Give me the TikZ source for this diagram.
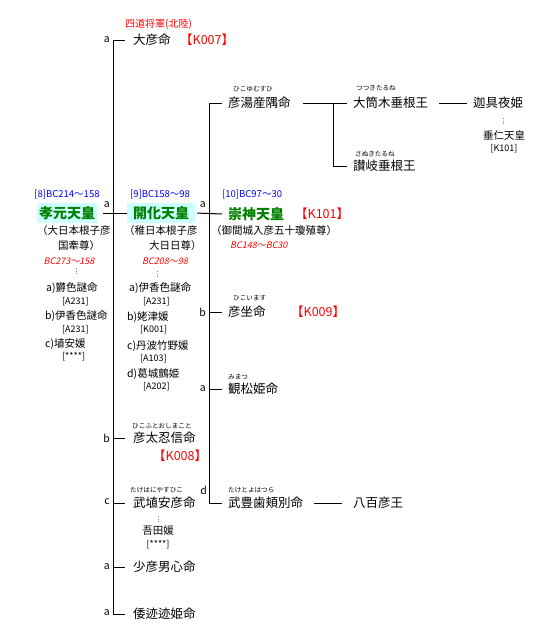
\documentclass[tikz,border=0pt]{standalone}
\usepackage{fontspec}
\setmainfont{Noto Sans CJK JP}
\newfontfamily\slantfont[FakeSlant=0.22]{Noto Sans CJK JP}
\usepackage{tikz}
\usepackage{xcolor}
\definecolor{tennobg}{HTML}{CCFFFF}
\definecolor{tennogreen}{HTML}{008000}
\newcommand\nmfont{\fontsize{12.5}{14}\selectfont}
\newcommand\rbfont{\fontsize{6.6}{7}\selectfont}
\newcommand\smfont{\fontsize{10.5}{12}\selectfont}

\begin{document}
\begin{tikzpicture}[x=1pt,y=-1pt,
  every node/.style={inner sep=0pt},
  nm/.style={anchor=west,font=\nmfont},
  rb/.style={anchor=west,font=\rbfont},
  kcode/.style={anchor=west,font=\nmfont,text=red},
  sm/.style={anchor=west,font=\smfont},
  ref/.style={font=\fontsize{9}{10}\selectfont},
  era/.style={font=\fontsize{9.5}{10}\selectfont,text=blue},
  life/.style={font=\fontsize{9}{10}\selectfont\slantfont,text=red},
  lab/.style={anchor=east,font=\fontsize{10.5}{11}\selectfont},
  tenno/.style={font=\fontsize{14}{16}\selectfont\bfseries,text=tennogreen},
  tennobox/.style={tenno,fill=tennobg,minimum height=20},
  tree/.style={line width=1pt},
  dotline/.style={gray,dotted,line width=0.7pt}]
\useasboundingbox (0,0) rectangle (554,633);
\coordinate (trunkA) at (113,40);
\coordinate (trunkB) at (209,103);
\coordinate (trunkC) at (333,103);
% generation of Koan
\node[tennobox,minimum width=60] (koan) at (67,213) {孝元天皇};
\node[era] (koanera) at (67,195) {[8]BC214～158};
\node[sm] (koanalias) at (37,231) {（大日本根子彦};
\node[sm] (koanalias2) at (58,246) {国牽尊）};
\node[life] (koanlife) at (69,261) {BC273～158};
\node[sm] (koanwa) at (46,288) {a)欝色謎命};
\node[ref,anchor=west] (koanwaref) at (62,302) {[A231]};
\node[sm] (koanwb) at (45,316) {b)伊香色謎命};
\node[ref,anchor=west] (koanwbref) at (62,330) {[A231]};
\node[sm] (koanwc) at (45,344) {c)埴安媛};
\node[ref,anchor=west] (koanwcref) at (62,357) {[****]};
\coordinate (koandot) at (76,268);
\draw[dotline] (koandot) -- ++(0,8);
% children of Koan
\node[nm] (ohiko) at (133,40) {大彦命};
\node[kcode] (ohikok) at (180,40) {【K007】};
\node[anchor=west,font=\fontsize{10}{12}\selectfont,text=red] (shido) at (125,24) {四道将軍(北陸)};
\node[tennobox,minimum width=68] (kaika) at (161,213) {開化天皇};
\node[era] (kaikaera) at (160,195) {[9]BC158～98};
\node[sm] (kaikaalias) at (124,231) {（稚日本根子彦};
\node[sm] (kaikaalias2) at (149,246) {大日日尊）};
\node[life] (kaikalife) at (165,261) {BC208～98};
\coordinate (kaikadot) at (157,271);
\draw[dotline] (kaikadot) -- ++(0,8);
\node[sm] (kaikawa) at (129,288) {a)伊香色謎命};
\node[ref,anchor=west] (kaikawaref) at (143,302) {[A231]};
\node[sm] (kaikawb) at (127,317) {b)姥津媛};
\node[ref,anchor=west] (kaikawbref) at (140,330) {[K001]};
\node[sm] (kaikawc) at (127,346) {c)丹波竹野媛};
\node[ref,anchor=west] (kaikawcref) at (140,359) {[A103]};
\node[sm] (kaikawd) at (127,374) {d)葛城鸇姫};
\node[ref,anchor=west] (kaikawdref) at (143,387) {[A202]};
\node[nm] (hikofuto) at (133,438) {彦太忍信命};
\node[rb] at (132,426) {ひこふとおしまこと};
\node[kcode] (hikofutok) at (153,456) {【K008】};
\node[nm] (takehani) at (133,503) {武埴安彦命};
\node[rb] at (130,490) {たけはにやすひこ};
\coordinate (takehanidot) at (158,516);
\draw[dotline] (takehanidot) -- ++(0,8);
\node[sm,anchor=center] (ata) at (158,531) {吾田媛};
\node[ref] (ataref) at (158,545) {[****]};
\node[nm] (sukuna) at (133,567) {少彦男心命};
\node[nm] (yamato) at (133,614) {倭迹迹姫命};
\node[lab] at (110,40) {a};
\node[lab] at (110,205) {a};
\node[lab] at (110,438) {b};
\node[lab] at (110,502) {c};
\node[lab] at (110,567) {a};
\node[lab] at (110,613) {a};
\draw[tree] ([xshift=-8]ohiko.west) -- (trunkA) |- ([xshift=-8]yamato.west);
\foreach \n in {hikofuto,takehani,sukuna}
  \draw[tree] (trunkA |- \n.west) -- ([xshift=-8]\n.west);
\draw[tree,shorten <=6] (koan.east) -- (kaika.west);
% children of Kaika
\node[nm] (hikoyu) at (228,103) {彦湯産隅命};
\node[rb] at (233,89) {ひこゆむすひ};
\node[tenno,anchor=west] (sujin) at (228,214) {崇神天皇};
\node[kcode] (sujink) at (295,214) {【K101】};
\node[era,anchor=west] (sujinera) at (222,195) {[10]BC97～30};
\node[sm] (sujinalias) at (211,231) {（御間城入彦五十瓊殖尊）};
\node[life,anchor=west] (sujinlife) at (230,245) {BC148～BC30};
\node[nm] (hikoimasu) at (228,312) {彦坐命};
\node[rb] at (233,298) {ひこいます};
\node[kcode] (hikoimasuk) at (291,312) {【K009】};
\node[nm] (mimatsu) at (228,389) {観松姫命};
\node[rb] at (228,377) {みまつ};
\node[nm] (taketoyo) at (228,503) {武豊歯頬別命};
\node[rb] at (228,490) {たけとよはつら};
\node[nm] (yaohiko) at (353,503) {八百彦王};
\node[lab] at (206,205) {a};
\node[lab] at (206,312) {b};
\node[lab] at (206,389) {a};
\node[lab] at (207,490) {d};
\draw[tree] ([xshift=-6]hikoyu.west) -- (trunkB) |- ([xshift=-6]taketoyo.west);
\foreach \n in {hikoimasu,mimatsu}
  \draw[tree] (trunkB |- \n.west) -- ([xshift=-6]\n.west);
\draw[tree,shorten <=2] (kaika.east) -- ([xshift=-6]sujin.west);
\draw[tree,shorten <=11,shorten >=11] (taketoyo.east) -- (yaohiko.west);
% line of Hikoyumusumi
\node[nm] (otsutsuki) at (353,103) {大筒木垂根王};
\node[rb] at (356,88) {つつきたるね};
\node[nm] (sanuki) at (353,166) {讃岐垂根王};
\node[rb] at (355,154) {さぬきたるね};
\node[nm] (kaguya) at (473,103) {迦具夜姫};
\coordinate (kaguyadot) at (503,118);
\draw[dotline] (kaguyadot) -- ++(0,8);
\node[font=\fontsize{10.5}{12}\selectfont] (suinin) at (504,136) {垂仁天皇};
\node[ref] (suininref) at (504,149) {[K101]};
\draw[tree,shorten <=12,shorten >=6] (hikoyu.east) -- (otsutsuki.west);
\draw[tree] (trunkC) |- ([xshift=-6]sanuki.west);
\draw[tree,shorten <=11,shorten >=6] (otsutsuki.east) -- (kaguya.west);
\end{tikzpicture}
\end{document}
